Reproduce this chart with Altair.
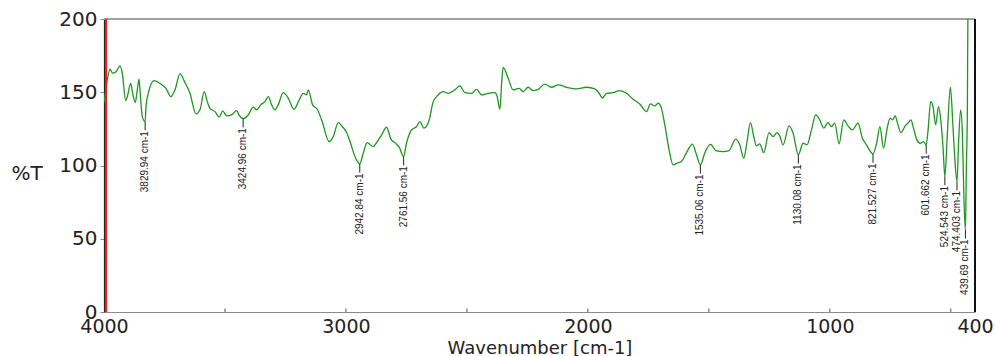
import altair as alt
import pandas as pd

# IR spectrum: wavenumber (cm-1) and transmittance (%T)
wavenumber = [
    4000, 3988.8, 3975.2, 3964.1, 3950.4, 3933.9, 3924.4, 3910.3, 3902.1, 3889.7,
    3881.4, 3870.7, 3862.4, 3855.4, 3851.3, 3841.8, 3829.94, 3826.5, 3815.3, 3793.4,
    3768.6, 3743.8, 3724.4, 3706.7, 3686.0, 3665.3, 3644.7, 3619.9, 3603.4, 3585.6,
    3573.2, 3562.0, 3541.4, 3523.6, 3509.6, 3493.1, 3472.4, 3451.7, 3442.2, 3424.96,
    3403.8, 3383.1, 3369.1, 3352.6, 3334.8, 3321.2, 3307.1, 3293.5, 3279.8, 3259.2,
    3238.5, 3215.0, 3193.1, 3176.6, 3162.5, 3155.9, 3137.7, 3118.7, 3100.5, 3069.1,
    3052.6, 3031.9, 3015.4, 2997.2, 2980.7, 2962.9, 2942.84, 2928.7, 2912.1, 2887.3,
    2873.3, 2852.6, 2832.0, 2814.2, 2797.7, 2779.9, 2761.56, 2749.8, 2728.7, 2708.0,
    2694.4, 2677.9, 2655.9, 2639.4, 2625.4, 2598.1, 2577.5, 2549.8, 2529.1, 2508.5,
    2480.8, 2460.1, 2439.4, 2412.2, 2384.5, 2375.0, 2363.8, 2355.6, 2350.2, 2329.5,
    2308.9, 2284.1, 2267.6, 2246.9, 2226.3, 2205.6, 2177.9, 2150.3, 2123.0, 2088.3,
    2047.0, 2005.6, 1971.3, 1953.6, 1939.6, 1923.0, 1895.8, 1868.0, 1840.4, 1813.1,
    1785.4, 1757.7, 1741.2, 1723.4, 1709.8, 1695.8, 1682.1, 1664.4, 1647.8, 1631.3,
    1613.1, 1592.5, 1567.7, 1551.2, 1535.06, 1517.4, 1493.3, 1471.2, 1441.2, 1416.5,
    1388.8, 1372.3, 1355.7, 1342.2, 1328.1, 1314.4, 1303.3, 1289.6, 1273.1, 1251.2,
    1234.7, 1218.2, 1207.0, 1193.3, 1168.5, 1152.0, 1130.08, 1110.6, 1094.1, 1076.0,
    1058.2, 1041.7, 1025.2, 1007.4, 993.4, 979.7, 961.9, 942.5, 924.8, 906.6,
    883.5, 865.3, 848.8, 821.527, 806.3, 793.1, 778.1, 761.6, 750.5, 741.0,
    729.8, 720.3, 706.3, 688.5, 674.9, 665.0, 654.3, 640.2, 626.6, 613.0,
    601.662, 594.3, 583.1, 573.6, 562.4, 551.3, 543.0, 532.3, 524.543, 514.2,
    501.8, 491.1, 484.0, 474.403, 467.5, 459.2, 452.2, 445.6, 439.69, 435.6,
    431.5, 429.0, 415.0, 400.0,
]
transmittance = [
    143.0, 156.0, 165.7, 163.0, 164.0, 168.0, 163.0, 144.3, 148.0, 156.0,
    149.3, 143.0, 151.6, 159.0, 151.6, 133.4, 130.0, 140.0, 150.4, 158.0,
    156.0, 152.7, 147.0, 151.6, 162.5, 156.6, 149.3, 135.2, 138.0, 150.4,
    143.6, 139.0, 136.8, 133.0, 137.3, 133.9, 134.5, 137.5, 134.5, 132.0,
    134.5, 139.8, 138.0, 141.4, 143.6, 147.0, 141.4, 138.0, 141.4, 149.7,
    146.0, 138.4, 144.8, 149.3, 148.2, 151.6, 141.4, 138.4, 131.1, 116.3,
    119.7, 129.3, 126.6, 122.5, 115.2, 106.1, 101.1, 108.4, 115.6, 112.9,
    115.6, 120.9, 126.1, 118.0, 115.6, 112.5, 106.1, 115.2, 124.3, 126.6,
    130.0, 125.5, 131.1, 143.6, 147.0, 150.4, 149.3, 151.6, 154.3, 149.7,
    149.3, 152.0, 148.2, 149.3, 149.7, 147.0, 138.4, 158.4, 167.0, 159.6,
    151.6, 152.7, 150.4, 153.4, 151.1, 152.0, 155.5, 153.4, 155.0, 153.4,
    152.3, 153.4, 152.3, 149.3, 146.0, 149.3, 149.7, 151.1, 149.3, 145.2,
    142.0, 136.8, 142.0, 140.7, 142.5, 139.0, 127.7, 110.7, 100.4, 101.6,
    102.7, 108.8, 114.6, 107.3, 100.4, 108.4, 114.4, 110.2, 109.5, 110.2,
    118.0, 114.1, 105.0, 116.3, 129.3, 119.7, 113.4, 114.8, 108.8, 122.5,
    119.7, 122.5, 120.2, 114.1, 127.0, 122.1, 107.3, 115.2, 114.1, 124.3,
    134.5, 131.1, 125.5, 129.3, 126.6, 128.9, 114.8, 131.1, 127.0, 124.3,
    128.9, 118.6, 114.1, 107.9, 115.5, 126.6, 111.8, 126.6, 132.3, 131.1,
    133.9, 128.9, 122.5, 127.0, 129.3, 131.1, 125.5, 117.5, 115.2, 116.3,
    114.1, 123.6, 143.6, 140.2, 127.7, 140.2, 133.4, 112.9, 92.5, 122.0,
    153.4, 126.6, 106.1, 89.1, 117.5, 138.0, 122.0, 76.6, 56.1, 99.3,
    138.0, 210.0, 230.0, 230.0,
]

# Annotated absorption peaks
peak_wn = [3829.94, 3424.96, 2942.84, 2761.56, 1535.06, 1130.08, 821.527, 601.662, 524.543, 474.403, 439.69]
peak_t = [130.0, 132.0, 101.1, 106.1, 100.4, 107.3, 107.9, 114.1, 92.5, 89.1, 56.1]
peak_text = ["3829.94 cm-1", "3424.96 cm-1", "2942.84 cm-1", "2761.56 cm-1", "1535.06 cm-1",
             "1130.08 cm-1", "821.527 cm-1", "601.662 cm-1", "524.543 cm-1", "474.403 cm-1",
             "439.69 cm-1"]

x_labels = [4000, 3000, 2000, 1000, 400]
x_minor = [3500, 3000, 2500, 2000, 1500, 1000, 500]
y_ticks = [0, 25, 50, 75, 100, 125, 150, 175, 200]
cursor_wn = 3993

spectrum = pd.DataFrame({"wn": wavenumber, "t": transmittance})
peaks = pd.DataFrame({"wn": peak_wn, "t": peak_t, "label": peak_text})
minor = pd.DataFrame({"wn": x_minor})

FONT = "DejaVu Sans"
NARROW = "Liberation Sans Narrow, Arial Narrow, Liberation Sans"

x_scale = alt.Scale(domain=[4000, 400], nice=False, zero=False)
y_scale = alt.Scale(domain=[0, 200], nice=False, zero=False)

x_axis = alt.Axis(
    values=x_labels, format="d", ticks=False, grid=False, labelFlush=False,
    labelOverlap=False, labelFont=FONT, labelFontSize=19, labelColor="#222",
    labelPadding=5, domainColor="#8a8a8a", domainWidth=1.2,
    title="Wavenumber [cm-1]", titleFont=FONT, titleFontSize=18,
    titleFontWeight="normal", titleColor="#222",
    titleBaseline="alphabetic", titleY=41,
)
y_axis = alt.Axis(
    values=y_ticks, grid=False, labelOverlap=False,
    labelExpr="datum.value % 50 == 0 ? datum.label : ''",
    labelFont=FONT, labelFontSize=20, labelColor="#222", labelPadding=3,
    tickSize=4, tickColor="#8a8a8a", domainColor="#222", domainWidth=1.2,
    title="%T", titleAngle=0, titleAlign="left", titleBaseline="middle",
    titleX=-93, titleY=154, titleFont=FONT, titleFontSize=20,
    titleFontWeight="normal", titleColor="#222",
)

base_x = alt.X("wn:Q", scale=x_scale, axis=x_axis)
base_y = alt.Y("t:Q", scale=y_scale, axis=y_axis)

line = alt.Chart(spectrum).mark_line(
    color="#1f961f", strokeWidth=1.3, clip=True, interpolate="monotone"
).encode(x=base_x, y=base_y)

peak_ticks = alt.Chart(peaks).transform_calculate(
    t_end="datum.t - 6"
).mark_rule(color="#222", strokeWidth=1).encode(
    x=alt.X("wn:Q", scale=x_scale), y=alt.Y("t:Q", scale=y_scale), y2="t_end:Q"
)

peak_labels = alt.Chart(peaks).transform_calculate(
    t_text="datum.t - 6.5"
).mark_text(
    angle=270, align="right", baseline="middle", font=NARROW, fontSize=10, color="#222"
).encode(
    x=alt.X("wn:Q", scale=x_scale), y=alt.Y("t_text:Q", scale=y_scale), text="label:N"
)

minor_ticks = alt.Chart(minor).transform_calculate(
    lo="0", hi="2.4"
).mark_rule(color="#555", strokeWidth=1).encode(
    x=alt.X("wn:Q", scale=x_scale), y=alt.Y("lo:Q", scale=y_scale), y2="hi:Q"
)

cursor = alt.Chart(spectrum).mark_rule(color="#ff1a1a", strokeWidth=1).encode(
    x=alt.datum(cursor_wn, scale=x_scale)
)
top_border = alt.Chart(spectrum).mark_rule(color="#a0a0a0", strokeWidth=1.5).encode(
    y=alt.datum(200, scale=y_scale)
)
right_border = alt.Chart(spectrum).mark_rule(color="#111", strokeWidth=1.3).encode(
    x=alt.datum(400, scale=x_scale)
)

chart = alt.layer(
    top_border, minor_ticks, line, right_border, cursor, peak_ticks, peak_labels
).properties(
    width=871, height=293,
    autosize=alt.AutoSizeParams(type="none"),
    padding={"left": 104, "top": 19, "right": 20, "bottom": 44},
).configure_view(stroke=None).configure(background="white")

chart.save("out.html", embed_options={"renderer": "svg", "actions": False})
